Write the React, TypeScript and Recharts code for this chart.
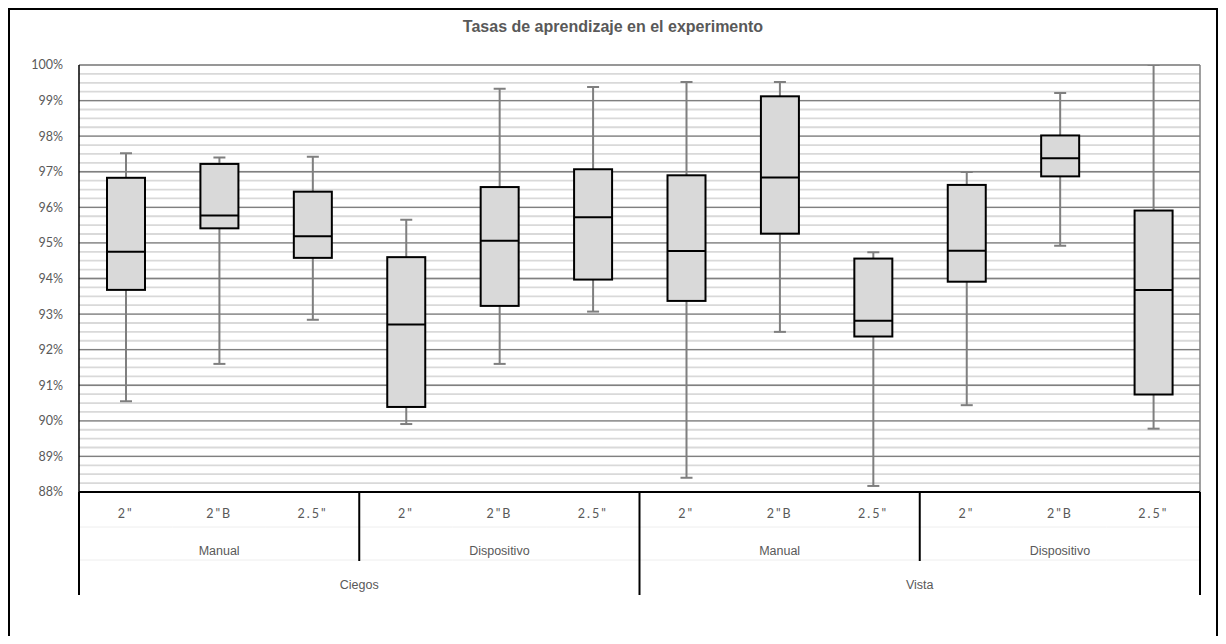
import { ComposedChart, Bar, XAxis, YAxis, CartesianGrid } from 'recharts'

const categories = ['2"', '2"B', '2.5"', '2"', '2"B', '2.5"', '2"', '2"B', '2.5"', '2"', '2"B', '2.5"']
const methods = ['Manual', 'Manual', 'Manual', 'Dispositivo', 'Dispositivo', 'Dispositivo', 'Manual', 'Manual', 'Manual', 'Dispositivo', 'Dispositivo', 'Dispositivo']
const groups = ['Ciegos', 'Ciegos', 'Ciegos', 'Ciegos', 'Ciegos', 'Ciegos', 'Vista', 'Vista', 'Vista', 'Vista', 'Vista', 'Vista']

const minVals = [90.55, 91.6, 92.84, 89.91, 91.6, 93.07, 88.4, 92.5, 88.17, 90.44, 94.92, 89.78]
const q1Vals = [93.68, 95.41, 94.58, 90.39, 93.23, 93.97, 93.37, 95.26, 92.37, 93.91, 96.87, 90.74]
const medianVals = [94.75, 95.77, 95.19, 92.71, 95.06, 95.72, 94.77, 96.84, 92.81, 94.78, 97.38, 93.68]
const q3Vals = [96.83, 97.22, 96.44, 94.6, 96.57, 97.07, 96.9, 99.12, 94.56, 96.63, 98.02, 95.91]
const maxVals = [97.52, 97.4, 97.42, 95.65, 99.33, 99.38, 99.52, 99.52, 94.74, 96.99, 99.21, 100]

const yTicks = [88, 89, 90, 91, 92, 93, 94, 95, 96, 97, 98, 99, 100]
const minorTicks = Array.from({ length: 49 }, (_, i) => 88 + i * 0.25)

const data = categories.map((c, i) => ({
  key: i,
  label: c,
  method: methods[i],
  group: groups[i],
  min: minVals[i],
  q1: q1Vals[i],
  median: medianVals[i],
  q3: q3Vals[i],
  max: maxVals[i],
}))

const W = 1210
const H = 636
const M = { top: 57, right: 18, left: 11, bottom: 0 }
const Y_W = 60
const PLOT_W = W - M.left - Y_W - M.right
const BAND = PLOT_W / categories.length

const tickFont = 'Lato, "DejaVu Sans", sans-serif'
const labelFont = '"Liberation Sans", Arial, sans-serif'

function BoxShape(props: any) {
  const { x, y, width, height, payload } = props
  const top = Math.min(y, y + height)
  const bottom = Math.max(y, y + height)
  const span = payload.max - payload.min
  const py = (v: number) => top + ((payload.max - v) / span) * (bottom - top)
  const cx = x + width / 2
  const cap = 6
  return (
    <g>
      <line x1={cx} x2={cx} y1={py(payload.max)} y2={py(payload.min)} stroke="#7f7f7f" strokeWidth={2} />
      <line x1={cx - cap} x2={cx + cap} y1={py(payload.max)} y2={py(payload.max)} stroke="#7f7f7f" strokeWidth={2} />
      <line x1={cx - cap} x2={cx + cap} y1={py(payload.min)} y2={py(payload.min)} stroke="#7f7f7f" strokeWidth={2} />
      <rect
        x={x}
        y={py(payload.q3)}
        width={width}
        height={py(payload.q1) - py(payload.q3)}
        fill="#d9d9d9"
        stroke="#000"
        strokeWidth={2}
      />
      <line x1={x} x2={x + width} y1={py(payload.median)} y2={py(payload.median)} stroke="#000" strokeWidth={2} />
    </g>
  )
}

function CategoryTick(props: any) {
  const { x, y, index } = props
  const d = data[index]
  const left = x - BAND / 2
  const right = x + BAND / 2
  return (
    <g>
      <line x1={left} x2={right} y1={y + 35} y2={y + 35} stroke="#eeeeee" strokeWidth={1} />
      <line x1={left} x2={right} y1={y + 68} y2={y + 68} stroke="#eeeeee" strokeWidth={1} />
      <text x={x} y={y + 26} textAnchor="middle" fontFamily={tickFont} fontSize={12.5} fill="#595959" letterSpacing={2}>
        {d.label}
      </text>
      {index % 3 === 1 && (
        <text x={x} y={y + 63} textAnchor="middle" fontFamily={labelFont} fontSize={12.5} fill="#595959">
          {d.method}
        </text>
      )}
      {index % 6 === 2 && (
        <text x={right} y={y + 97} textAnchor="middle" fontFamily={labelFont} fontSize={12.5} fill="#595959">
          {d.group}
        </text>
      )}
      {index % 6 === 0 && <line x1={left} x2={left} y1={y} y2={y + 103} stroke="#000" strokeWidth={2} />}
      {index % 6 === 3 && <line x1={left} x2={left} y1={y} y2={y + 69} stroke="#000" strokeWidth={2} />}
      {index === data.length - 1 && <line x1={right} x2={right} y1={y} y2={y + 103} stroke="#000" strokeWidth={2} />}
    </g>
  )
}

export default function App() {
  return (
    <div style={{ position: 'relative', width: W, height: H, marginBottom: -8, overflow: 'hidden' }}>
      <div
        style={{
          position: 'absolute',
          left: 0,
          top: 0,
          width: W,
          height: H + 40,
          border: '2px solid #000',
          boxSizing: 'border-box',
          pointerEvents: 'none',
        }}
      />
      <div
        style={{
          position: 'absolute',
          left: 0,
          top: 10,
          width: W,
          textAlign: 'center',
          fontFamily: labelFont,
          fontWeight: 700,
          fontSize: 16,
          color: '#595959',
        }}
      >
        Tasas de aprendizaje en el experimento
      </div>
      <ComposedChart width={W} height={H} data={data} margin={M}>
        <YAxis
          yAxisId="minor"
          hide
          domain={[88, 100]}
          ticks={minorTicks}
          interval={0}
          type="number"
          allowDataOverflow
        />
        <CartesianGrid yAxisId="minor" vertical={false} stroke="#d9d9d9" strokeWidth={1.8} />
        <CartesianGrid vertical={false} stroke="#808080" strokeWidth={1.3} />
        <CartesianGrid
          horizontal={false}
          verticalCoordinatesGenerator={({ offset }: any) => [offset.left + offset.width]}
          stroke="#808080"
          strokeWidth={1.5}
        />
        <XAxis
          dataKey="key"
          type="category"
          height={H - M.top - M.bottom - 427}
          axisLine={{ stroke: '#000', strokeWidth: 2 }}
          tickLine={false}
          tickSize={0}
          tickMargin={0}
          interval={0}
          tick={<CategoryTick />}
        />
        <YAxis
          width={Y_W}
          domain={[88, 100]}
          ticks={yTicks}
          interval={0}
          type="number"
          allowDataOverflow
          axisLine={{ stroke: '#000', strokeWidth: 1.5 }}
          tickLine={false}
          tickSize={0}
          tickMargin={16}
          tickFormatter={(v: number) => `${v}%`}
          tick={{ fontSize: 12.5, fill: '#595959', fontFamily: tickFont }}
        />
        <Bar dataKey={(d: any) => [d.min, d.max]} barSize={38} shape={<BoxShape />} isAnimationActive={false} />
      </ComposedChart>
    </div>
  )
}
